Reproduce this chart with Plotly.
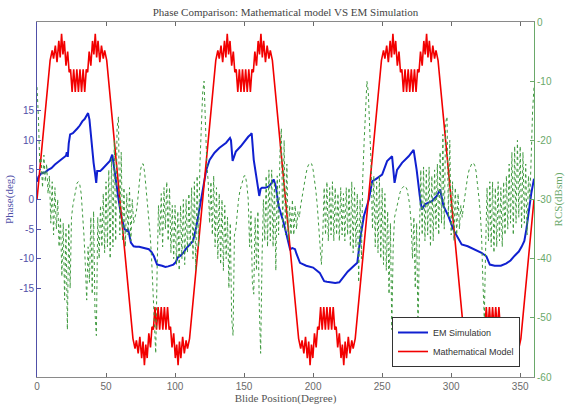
import plotly.graph_objects as go

# ---------------- data ----------------
# Mathematical model: vertices of the red curve (angle in deg, phase in deg)
MODEL_ANGLE = [
    0,
    9.5, 11.0, 12.0, 13.3, 14.5, 15.8, 16.8, 17.8, 18.8, 19.8, 21.0, 22.2, 23.3, 24.3,
    25.44, 26.58, 27.72, 28.86, 30.0, 31.14, 32.28, 33.42, 34.56, 35.7,
    36.7, 37.8, 39.0, 40.2, 41.2, 42.2, 43.2, 44.2, 45.5, 46.7, 48.0, 49.0, 50.5,
    69.5, 71.0, 72.0, 73.3, 74.5, 75.8, 76.8, 77.8, 78.8, 79.8, 81.0, 82.2, 83.3, 84.3,
    85.44, 86.58, 87.72, 88.86, 90.0, 91.14, 92.28, 93.42, 94.56, 95.7,
    96.7, 97.8, 99.0, 100.2, 101.2, 102.2, 103.2, 104.2, 105.5, 106.7, 108.0, 109.0, 110.5,
    129.5, 131.0, 132.0, 133.3, 134.5, 135.8, 136.8, 137.8, 138.8, 139.8, 141.0, 142.2, 143.3, 144.3,
    145.44, 146.58, 147.72, 148.86, 150.0, 151.14, 152.28, 153.42, 154.56, 155.7,
    156.7, 157.8, 159.0, 160.2, 161.2, 162.2, 163.2, 164.2, 165.5, 166.7, 168.0, 169.0, 170.5,
    189.5, 191.0, 192.0, 193.3, 194.5, 195.8, 196.8, 197.8, 198.8, 199.8, 201.0, 202.2, 203.3, 204.3,
    205.44, 206.58, 207.72, 208.86, 210.0, 211.14, 212.28, 213.42, 214.56, 215.7,
    216.7, 217.8, 219.0, 220.2, 221.2, 222.2, 223.2, 224.2, 225.5, 226.7, 228.0, 229.0, 230.5,
    249.5, 251.0, 252.0, 253.3, 254.5, 255.8, 256.8, 257.8, 258.8, 259.8, 261.0, 262.2, 263.3, 264.3,
    265.44, 266.58, 267.72, 268.86, 270.0, 271.14, 272.28, 273.42, 274.56, 275.7,
    276.7, 277.8, 279.0, 280.2, 281.2, 282.2, 283.2, 284.2, 285.5, 286.7, 288.0, 289.0, 290.5,
    309.5, 311.0, 312.0, 313.3, 314.5, 315.8, 316.8, 317.8, 318.8, 319.8, 321.0, 322.2, 323.3, 324.3,
    325.44, 326.58, 327.72, 328.86, 330.0, 331.14, 332.28, 333.42, 334.56, 335.7,
    336.7, 337.8, 339.0, 340.2, 341.2, 342.2, 343.2, 344.2, 345.5, 346.7, 348.0, 349.0, 350.5,
    360,
]
MODEL_PHASE = [
    0,
    23.5, 25.2, 23.8, 26.0, 23.2, 26.8, 24.0, 28.0, 24.5, 26.8, 22.6, 25.0, 21.5, 22.0,
    18.2, 22.0, 18.2, 22.0, 18.2, 22.0, 18.2, 22.0, 18.2, 22.0,
    21.5, 25.0, 22.6, 26.8, 24.5, 28.0, 24.0, 26.8, 23.2, 26.0, 23.8, 25.2, 23.5,
    -23.5, -25.2, -23.8, -26.0, -23.2, -26.8, -24.0, -28.0, -24.5, -26.8, -22.6, -25.0, -21.5, -22.0,
    -18.2, -22.0, -18.2, -22.0, -18.2, -22.0, -18.2, -22.0, -18.2, -22.0,
    -21.5, -25.0, -22.6, -26.8, -24.5, -28.0, -24.0, -26.8, -23.2, -26.0, -23.8, -25.2, -23.5,
    23.5, 25.2, 23.8, 26.0, 23.2, 26.8, 24.0, 28.0, 24.5, 26.8, 22.6, 25.0, 21.5, 22.0,
    18.2, 22.0, 18.2, 22.0, 18.2, 22.0, 18.2, 22.0, 18.2, 22.0,
    21.5, 25.0, 22.6, 26.8, 24.5, 28.0, 24.0, 26.8, 23.2, 26.0, 23.8, 25.2, 23.5,
    -23.5, -25.2, -23.8, -26.0, -23.2, -26.8, -24.0, -28.0, -24.5, -26.8, -22.6, -25.0, -21.5, -22.0,
    -18.2, -22.0, -18.2, -22.0, -18.2, -22.0, -18.2, -22.0, -18.2, -22.0,
    -21.5, -25.0, -22.6, -26.8, -24.5, -28.0, -24.0, -26.8, -23.2, -26.0, -23.8, -25.2, -23.5,
    23.5, 25.2, 23.8, 26.0, 23.2, 26.8, 24.0, 28.0, 24.5, 26.8, 22.6, 25.0, 21.5, 22.0,
    18.2, 22.0, 18.2, 22.0, 18.2, 22.0, 18.2, 22.0, 18.2, 22.0,
    21.5, 25.0, 22.6, 26.8, 24.5, 28.0, 24.0, 26.8, 23.2, 26.0, 23.8, 25.2, 23.5,
    -23.5, -25.2, -23.8, -26.0, -23.2, -26.8, -24.0, -28.0, -24.5, -26.8, -22.6, -25.0, -21.5, -22.0,
    -18.2, -22.0, -18.2, -22.0, -18.2, -22.0, -18.2, -22.0, -18.2, -22.0,
    -21.5, -25.0, -22.6, -26.8, -24.5, -28.0, -24.0, -26.8, -23.2, -26.0, -23.8, -25.2, -23.5,
    0,
]

# EM simulation phase (deg)
EM_ANGLE = [
    0, 1, 3, 6, 8, 10.4, 13, 16.3, 19, 21, 21.6, 22.3, 23, 24, 26, 27, 29.2, 31,
    32.8, 34.5, 36.3, 37, 38, 39.5, 41, 42, 42.9, 43.6, 45.8, 47.5, 49.3, 51,
    52.8, 54.5, 55.3, 56.4, 58.7, 61, 63.4, 65, 66, 67, 68, 70, 71.7, 74, 76.4,
    78.5, 81, 83, 84.7, 86, 87, 90.6, 93, 95, 97, 98.8, 100.5, 102, 104, 106,
    108, 109.4, 111.8,
    113, 115.5, 118, 120, 122.6, 125, 128.6, 132, 135, 137, 139.8, 140.5, 141.7,
    143, 144, 147.6, 151, 153, 154.8, 155.5, 157, 159.5, 161, 162, 163, 165.5,
    167.9, 170, 171.4, 173, 175, 178.6, 181, 183.3, 185, 186.9, 188, 190.5, 195,
    200, 204.8, 208, 210, 213, 216, 219, 221, 222.6, 225,
    229.6, 232, 234.4, 236.8, 240.4, 242.8, 245.2, 250, 253.6, 257.2, 259, 260.8,
    264.4, 269.2, 272.8, 275, 277.6, 278.8, 281, 286, 289.6, 292, 294.4, 298,
    301.6, 304, 307.6, 312, 317, 322, 325.5, 328, 331.5, 336, 340, 343, 346, 349,
    351, 353, 354.5, 356, 358, 360,
]
EM_PHASE = [
    3.0, 3.8, 4.4, 4.6, 5.0, 5.3, 5.9, 6.5, 7.0, 7.4, 8.0, 7.2, 9.5, 11.0, 11.2, 11.4, 12.0, 12.5,
    13.2, 13.6, 14.3, 14.6, 13.5, 9.5, 6.2, 4.5, 2.8, 4.8, 4.8, 5.2, 5.6, 6.0,
    6.5, 7.6, 6.5, 4.5, 0.6, -2.8, -5.0, -5.3, -5.0, -6.2, -7.3, -7.9, -8.0, -8.0, -8.1,
    -8.3, -8.4, -8.9, -9.6, -10.4, -11.0, -11.2, -11.4, -11.3, -11.2, -11.0, -10.6, -9.8, -9.5, -9.0,
    -8.3, -7.9, -7.3,
    -7.0, -4.5, -1.1, 2.2, 5.0, 6.7, 7.9, 8.7, 9.2, 9.6, 10.4, 10.0, 6.5,
    7.6, 8.1, 9.0, 10.1, 10.6, 11.0, 11.2, 6.7, 2.8, 0.6, 1.8, 2.0, 2.0,
    2.2, 2.8, 3.4, 2.2, -1.1, -3.9, -6.2, -8.4, -8.2, -8.4, -9.2, -10.7, -11.2,
    -11.5, -12.4, -13.8, -13.9, -14.0, -14.1, -14.0, -13.4, -12.9, -12.2,
    -11.2, -10.7, -6.2, -2.8, 0.0, 3.1, 3.4, 4.2, 6.5, 7.3, 2.8, 5.0,
    6.2, 7.3, 8.4, 5.0, 0.0, -1.7, -0.8, -0.3, 0.6, 1.7, -1.1, -2.8,
    -5.1, -6.2, -7.6, -7.9, -8.4, -9.0, -9.6, -11.0, -11.2, -11.2, -10.8, -10.3, -9.5, -8.8,
    -8.0, -7.0, -5.0, -2.0, 1.0, 3.5,
]

# RCS (dBsm), 1-degree steps from 0 to 360
RCS_ANGLE = list(range(0, 361))
RCS = [
    -11, -16, -24, -23, -28, -22.5, -27, -24, -29, -26,
    -34, -27, -36, -28, -35, -30, -38, -33, -43, -34,
    -47, -35, -52, -34, -45, -33, -31, -29.5, -28, -27.2,
    -27, -27.5, -29, -32, -36, -41, -47, -38, -44, -33,
    -46, -32, -49, -53, -33, -40, -31, -38, -29, -39,
    -27, -38, -25, -40, -23, -38, -20, -37, -18, -16,
    -36, -22, -37, -28, -38, -29, -36, -28, -37, -30,
    -34, -33, -32, -30, -27.5, -25, -24, -24, -25.5, -28,
    -31, -34, -36, -40, -45, -50, -56, -42, -31, -36,
    -29, -38, -28, -35, -27, -37, -28, -39, -31, -40,
    -31, -41, -32, -42, -31, -40, -30, -41, -30, -39,
    -29, -38, -28, -40, -27, -42, -26, -38, -24, -18,
    -12, -10, -17, -24, -27, -34, -27, -36, -26, -38,
    -28, -40, -29, -41, -30, -42, -31, -40, -33, -45,
    -34, -50, -53, -36, -35, -32, -30, -28.5, -27.5, -26.5,
    -26, -26, -27.5, -30, -38, -32, -44, -46, -33, -42,
    -32, -48, -56, -40, -30, -37, -26, -38, -25, -37,
    -25, -38, -27, -42, -26, -36, -22, -18, -35, -20,
    -36, -24, -37, -31, -36, -30, -36, -31, -35, -32,
    -33, -31, -29.5, -28, -26.5, -25.5, -24.5, -24, -23.8, -24,
    -25, -26.5, -28.5, -31, -34, -37, -41, -36, -28, -36,
    -27, -37, -28, -36, -27, -37, -28, -36, -29, -37,
    -28, -36, -29, -37, -28, -36, -28, -38, -27, -39,
    -28, -38, -29, -44, -30, -40, -26, -20, -14, -10,
    -12, -18, -24, -35, -26, -38, -27, -39, -26, -40,
    -28, -41, -29, -42, -32, -46, -34, -52, -38, -33,
    -32, -30.5, -29.5, -28.8, -28.2, -27.9, -27.7, -27.8, -28.3, -29.5,
    -31, -34, -40, -33, -45, -34, -53, -36, -25, -36,
    -24.5, -37, -25, -36, -24.5, -38, -26, -37, -25, -35,
    -24, -36, -22, -34, -19, -35, -17, -16, -33, -20,
    -36, -27, -37, -28, -36, -29, -35, -31, -33, -31,
    -29, -27.5, -26, -25, -24.3, -23.9, -23.8, -24.2, -25.2, -27,
    -29.5, -32, -36, -44, -50, -38, -28, -37, -27, -38,
    -27, -39, -28, -38, -27, -37, -28, -38, -27, -36,
    -26, -35, -24, -34, -22, -36, -21, -34, -20, -33,
    -21, -35, -22, -34, -24, -36, -26, -30, -22, -15,
    -11,
]

X_TICKS = [0, 50, 100, 150, 200, 250, 300, 350]
PHASE_TICKS = [-15, -10, -5, 0, 5, 10, 15]
RCS_TICKS = [-60, -50, -40, -30, -20, -10, 0]

# ---------------- figure ----------------
SERIF = "Liberation Serif"
SANS = "Liberation Sans"
LEFT_C = "#5050a8"
RIGHT_C = "#6aa86a"
GRAY = "#6a6a6a"

fig = go.Figure()
fig.add_trace(go.Scatter(
    x=RCS_ANGLE, y=RCS, yaxis="y2", mode="lines", name="RCS",
    line=dict(color="#3f9a3f", width=1, dash="dot"), showlegend=False))
fig.add_trace(go.Scatter(
    x=EM_ANGLE, y=EM_PHASE, mode="lines", name="EM Simulation",
    line=dict(color="#1020d0", width=2)))
fig.add_trace(go.Scatter(
    x=MODEL_ANGLE, y=MODEL_PHASE, mode="lines", name="Mathematical Model",
    line=dict(color="#f20000", width=1.6)))

L, R, T, B = 37, 534, 22, 377
W, H = 565, 407

fig.update_layout(
    width=W, height=H,
    margin=dict(l=L, r=W - R, t=T, b=H - B),
    paper_bgcolor="white", plot_bgcolor="white",
    title=dict(text="Phase Comparison: Mathematical model VS EM Simulation",
               x=((L + R) / 2) / W, xanchor="center", y=1 - 12 / H, yanchor="middle",
               font=dict(family=SERIF, size=11, color="#444")),
    xaxis=dict(range=[0, 360], tickvals=X_TICKS, ticktext=[str(v) for v in X_TICKS],
               ticks="inside", ticklen=4, tickcolor=GRAY, showline=True, linecolor="#8a8a8a",
               mirror="ticks", showgrid=False, zeroline=False, automargin=False,
               tickfont=dict(family=SANS, size=10, color=GRAY),
               title=dict(text="Blide Position(Degree)", standoff=3,
                          font=dict(family=SERIF, size=11, color="#555"))),
    yaxis=dict(range=[-30, 30], tickvals=PHASE_TICKS,
               ticktext=[str(v) for v in PHASE_TICKS],
               ticks="inside", ticklen=4, tickcolor=LEFT_C, showline=True, linecolor=LEFT_C,
               showgrid=False, zeroline=False, automargin=False,
               tickfont=dict(family=SANS, size=10, color=LEFT_C),
               title=dict(text="Phase(deg)", standoff=3,
                          font=dict(family=SERIF, size=11, color=LEFT_C))),
    yaxis2=dict(range=[-60, 0], tickvals=RCS_TICKS, ticktext=[str(v) for v in RCS_TICKS],
                overlaying="y", side="right",
                ticks="inside", ticklen=4, tickcolor=RIGHT_C, showline=True, linecolor=RIGHT_C,
                showgrid=False, zeroline=False, automargin=False,
                tickfont=dict(family=SANS, size=10, color=RIGHT_C),
                title=dict(text="RCS(dBsm)", standoff=2,
                           font=dict(family=SERIF, size=11, color=RIGHT_C))),
    legend=dict(x=(520 - L) / (R - L), y=(B - 367) / (B - T), xanchor="right", yanchor="bottom",
                bordercolor="#333", borderwidth=1, bgcolor="white",
                font=dict(family=SANS, size=9, color="#333"), itemwidth=30,
                tracegroupgap=0),
)

fig.write_html("out.html")
